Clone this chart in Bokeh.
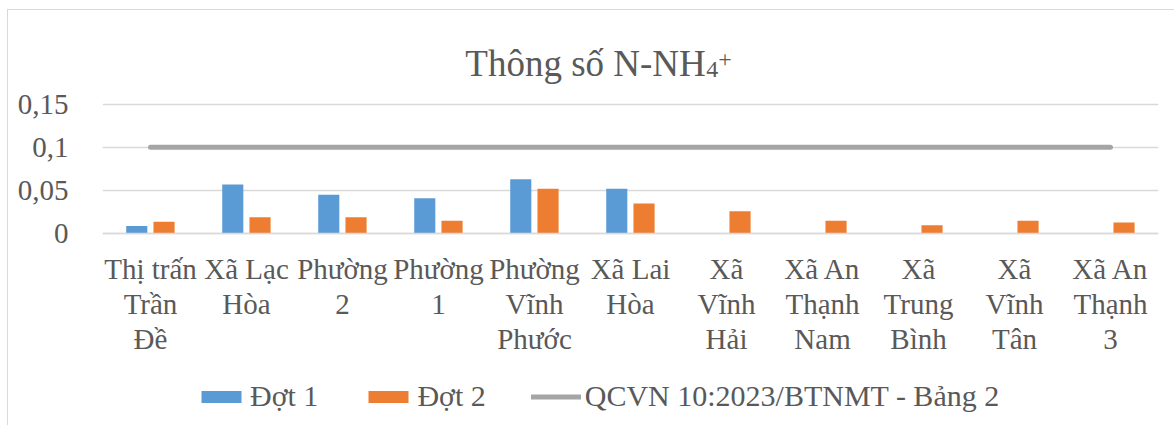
import numpy as np
from bokeh.plotting import figure
from bokeh.models import (FactorRange, Range1d, ColumnDataSource, Legend,
                          LegendItem, Label, FixedTicker)
from bokeh.transform import dodge
from bokeh.embed import file_html
from bokeh.resources import INLINE

# ---------------- data ----------------
categories = ["Thị trấn Trần Đề", "Xã Lạc Hòa", "Phường 2", "Phường 1",
              "Phường Vĩnh Phước", "Xã Lai Hòa", "Xã Vĩnh Hải",
              "Xã An Thạnh Nam", "Xã Trung Bình", "Xã Vĩnh Tân", "Xã An Thạnh 3"]
category_tick_labels = ["Thị trấn\nTrần\nĐề", "Xã Lạc\nHòa", "Phường\n2", "Phường\n1",
                        "Phường\nVĩnh\nPhước", "Xã Lai\nHòa", "Xã\nVĩnh\nHải",
                        "Xã An\nThạnh\nNam", "Xã\nTrung\nBình", "Xã\nVĩnh\nTân",
                        "Xã An\nThạnh\n3"]
dot1 = [0.009, 0.057, 0.045, 0.041, 0.063, 0.052, None, None, None, None, None]
dot2 = [0.014, 0.019, 0.019, 0.015, 0.052, 0.035, 0.026, 0.015, 0.010, 0.015, 0.013]
qcvn = [0.1, 0.1, 0.1, 0.1, 0.1, 0.1, 0.1, 0.1, 0.1, 0.1, 0.1]
series_names = ["Đợt 1", "Đợt 2", "QCVN 10:2023/BTNMT - Bảng 2"]
y_ticks = [0, 0.05, 0.1, 0.15]
y_tick_labels = ["0", "0,05", "0,1", "0,15"]
title_parts = ["Thông số N-NH", "4", "+"]

# ---------------- styling ----------------
FONT = "'Liberation Serif', serif"
TXT = "#595959"
GRID = "#D9D9D9"
BLUE = "#5B9BD5"
ORANGE = "#ED7D31"
GRAY = "#A5A5A5"

src = ColumnDataSource(dict(
    cat=category_tick_labels,
    name=categories,
    d1=np.array([np.nan if v is None else v for v in dot1], dtype=float),
    d2=dot2,
    q=qcvn,
))

# The frame covers the whole chart area (title on top, category labels and
# legend below the 0 line); the x axis is pinned at y = 0.
Y_TOP = 0.2582
Y_BOT = -0.2217
p = figure(x_range=FactorRange(factors=category_tick_labels, range_padding=0),
           y_range=Range1d(Y_BOT, Y_TOP),
           frame_width=1056, frame_height=415,
           min_border_left=94, min_border_right=16,
           min_border_top=0, min_border_bottom=0,
           output_backend="svg", toolbar_location=None)
p.styles = {"margin-left": "7px", "margin-top": "9px",
            "border-left": "1px solid #D9D9D9", "border-top": "1px solid #D9D9D9"}
p.outline_line_color = None
p.background_fill_color = "white"
p.border_fill_color = "white"

r1 = p.vbar(x=dodge("cat", -0.143, range=p.x_range), top="d1", bottom=0, width=0.22,
            source=src, fill_color=BLUE, line_color=None)
r2 = p.vbar(x=dodge("cat", 0.141, range=p.x_range), top="d2", bottom=0, width=0.22,
            source=src, fill_color=ORANGE, line_color=None)
r3 = p.line(x="cat", y="q", source=src, line_width=5, line_color=GRAY,
            line_cap="round")

# grid
p.xgrid.visible = False
p.ygrid.grid_line_color = GRID
p.ygrid.grid_line_width = 1.5
p.ygrid.ticker = FixedTicker(ticks=y_ticks)

# y axis
p.yaxis.ticker = FixedTicker(ticks=y_ticks)
p.yaxis.major_label_overrides = {t: l for t, l in zip(y_ticks, y_tick_labels)}
p.yaxis.axis_line_color = None
p.yaxis.major_tick_line_color = None
p.yaxis.minor_tick_line_color = None
p.yaxis.major_label_standoff = 28
p.yaxis.major_label_text_font = FONT
p.yaxis.major_label_text_font_size = "29px"
p.yaxis.major_label_text_color = TXT

# x axis, pinned at the 0 line
p.xaxis.fixed_location = 0
p.xaxis.axis_line_color = GRID
p.xaxis.axis_line_width = 1.5
p.xaxis.major_tick_line_color = None
p.xaxis.major_tick_out = 0
p.xaxis.major_tick_in = 0
p.xaxis.major_label_standoff = 19
p.xaxis.major_label_text_font = FONT
p.xaxis.major_label_text_font_size = "29px"
p.xaxis.major_label_text_color = TXT
p.xaxis.major_label_text_line_height = 1.1
p.xaxis.major_label_orientation = "horizontal"

# title (with subscript / superscript), placed inside the frame's top area
p.add_layout(Label(x=3.779, y=0.1973, text=title_parts[0], text_font=FONT,
                   text_font_size="37px", text_color=TXT,
                   text_align="left", text_baseline="alphabetic"))
p.add_layout(Label(x=6.288, y=0.1900, text=title_parts[1], text_font=FONT,
                   text_font_size="24px", text_color=TXT,
                   text_align="left", text_baseline="alphabetic"))
p.add_layout(Label(x=6.413, y=0.2018, text=title_parts[2], text_font=FONT,
                   text_font_size="24px", text_color=TXT,
                   text_align="left", text_baseline="alphabetic"))

legend = Legend(items=[LegendItem(label=series_names[0], renderers=[r1]),
                       LegendItem(label=series_names[1], renderers=[r2]),
                       LegendItem(label=series_names[2], renderers=[r3])],
                location=(94, 12), orientation="horizontal",
                padding=0, margin=0, spacing=45,
                glyph_width=50, glyph_height=15, label_height=30,
                label_standoff=4,
                label_text_font=FONT, label_text_font_size="30px",
                label_text_color=TXT,
                background_fill_alpha=0, border_line_color=None)
p.add_layout(legend)

open("out.html", "w").write(file_html(p, INLINE))
